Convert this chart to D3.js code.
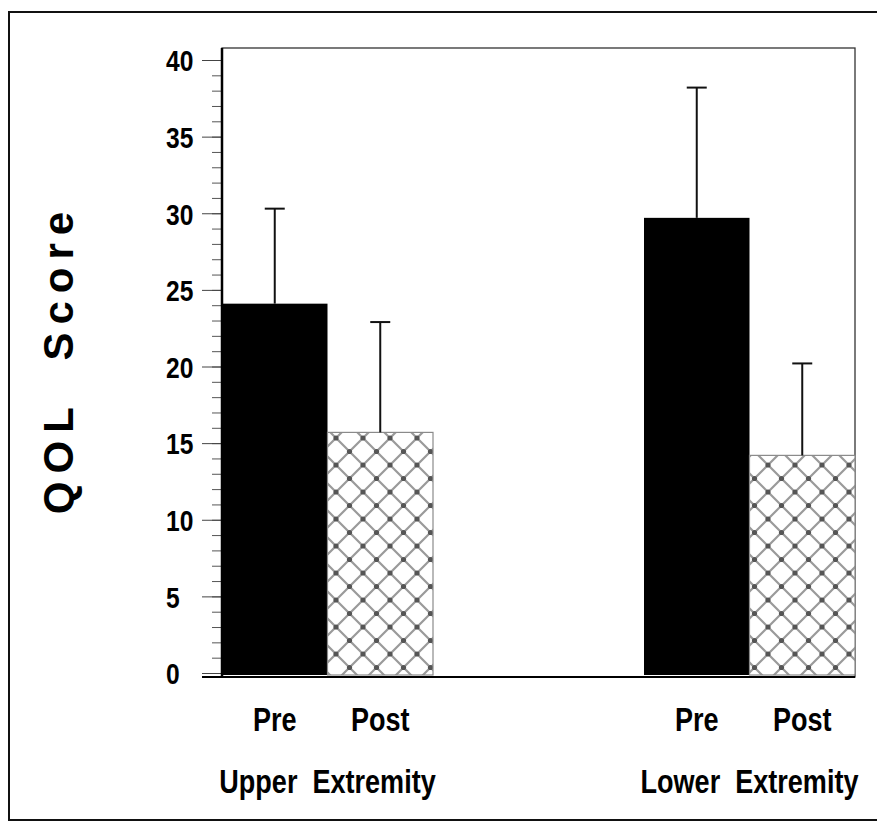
<!DOCTYPE html>
<html>
<head>
<meta charset="utf-8">
<script src="https://cdn.jsdelivr.net/npm/d3@7"></script>
<style>
  body { margin: 0; background: #fff; }
  .narrow { font-family: "Liberation Sans", Arial, sans-serif; font-weight: bold; }
</style>
</head>
<body>
<div id="chart"></div>
<script>
// chart values
var groups = ["Upper Extremity", "Lower Extremity"];
var phases = ["Pre", "Post"];
var preMeans = [24.1, 29.7];
var postMeans = [15.7, 14.2];
var preSD = [6.2, 8.5];
var postSD = [7.2, 6.0];
var yTicks = [0, 5, 10, 15, 20, 25, 30, 35, 40];

var svgWidth = 877;
var svgHeight = 824;
var squeeze = 0.82; // narrow bold look of the original lettering

var margin = { top: 60, right: 22, bottom: 151, left: 222 };
var width = svgWidth - margin.left - margin.right;
var height = svgHeight - margin.top - margin.bottom;

var svg = d3.select("#chart")
  .append("svg")
  .attr("width", svgWidth)
  .attr("height", svgHeight);

svg.append("rect")
  .attr("width", svgWidth).attr("height", svgHeight)
  .attr("fill", "#fff");

// outer frame of the figure
svg.append("rect")
  .attr("x", 9).attr("y", 12)
  .attr("width", 900).attr("height", 808)
  .attr("fill", "none")
  .attr("stroke", "#111")
  .attr("stroke-width", 2);

// cross hatch for the post bars
var defs = svg.append("defs");
var pat = defs.append("pattern")
  .attr("id", "hatch")
  .attr("patternUnits", "userSpaceOnUse")
  .attr("width", 27).attr("height", 27)
  .attr("x", margin.left).attr("y", 0);
pat.append("rect").attr("width", 27).attr("height", 27).attr("fill", "#fff");
pat.append("path")
  .attr("d", "M0,0L27,27M0,27L27,0M-3,3L3,-3M24,30L30,24M-3,24L3,30M24,-3L30,3")
  .attr("stroke", "#9a9a9a")
  .attr("stroke-width", 2.2);
pat.selectAll("circle")
  .data([[0, 0], [27, 0], [0, 27], [27, 27], [13.5, 13.5]])
  .enter()
  .append("circle")
  .attr("cx", d => d[0]).attr("cy", d => d[1])
  .attr("r", 2.6)
  .attr("fill", "#555");

var chartGroup = svg.append("g")
  .attr("transform", `translate(${margin.left}, ${margin.top})`);

// scales
var yScale = d3.scaleLinear()
  .domain([0, 40])
  .range([height, 0]);

var x0 = d3.scaleBand()
  .domain(groups)
  .range([0, width])
  .paddingInner(0.5);

var x1 = d3.scaleBand()
  .domain(phases)
  .range([0, x0.bandwidth()]);

var data = [];
groups.forEach(function(g, i) {
  data.push({ group: g, phase: "Pre", mean: preMeans[i], sd: preSD[i] });
  data.push({ group: g, phase: "Post", mean: postMeans[i], sd: postSD[i] });
});

// plot frame
var frameTop = yScale(40) - 12;
chartGroup.append("rect")
  .attr("x", 0).attr("y", frameTop)
  .attr("width", width).attr("height", height + 4 - frameTop)
  .attr("fill", "none")
  .attr("stroke", "#333")
  .attr("stroke-width", 1.3);

// minor ticks every unit
var minorAxis = d3.axisLeft(yScale)
  .ticks(40)
  .tickSize(10)
  .tickFormat("");
var minorG = chartGroup.append("g").call(minorAxis);
minorG.select(".domain").remove();
minorG.selectAll("line").attr("stroke", "#555").attr("stroke-width", 1);

// major ticks with labels
var leftAxis = d3.axisLeft(yScale)
  .tickValues(yTicks)
  .tickSize(20)
  .tickPadding(4);
var axisG = chartGroup.append("g").call(leftAxis);
axisG.select(".domain").remove();
axisG.selectAll("line").attr("stroke", "#444").attr("stroke-width", 1);
axisG.selectAll("text")
  .attr("class", "narrow")
  .attr("font-size", "30px")
  .attr("fill", "#000")
  .attr("text-anchor", "start")
  .attr("transform", `scale(${squeeze},1)`)
  .attr("x", -56 / squeeze)
  .attr("dy", "0.36em");

// bars
chartGroup.selectAll(".bar")
  .data(data)
  .enter()
  .append("rect")
  .attr("class", "bar")
  .attr("x", d => x0(d.group) + x1(d.phase))
  .attr("y", d => yScale(d.mean))
  .attr("width", x1.bandwidth())
  .attr("height", d => height + 2 - yScale(d.mean))
  .attr("fill", d => d.phase == "Pre" ? "#000" : "url(#hatch)")
  .attr("stroke", d => d.phase == "Pre" ? "#000" : "#8a8a8a")
  .attr("stroke-width", d => d.phase == "Pre" ? 0 : 1.2);

// error bars
var errG = chartGroup.selectAll(".err")
  .data(data)
  .enter()
  .append("g")
  .attr("class", "err")
  .attr("transform", d => `translate(${x0(d.group) + x1(d.phase) + x1.bandwidth() / 2}, 0)`);

errG.append("line")
  .attr("x1", 0).attr("x2", 0)
  .attr("y1", d => yScale(d.mean))
  .attr("y2", d => yScale(d.mean + d.sd))
  .attr("stroke", "#111")
  .attr("stroke-width", 2);

errG.append("line")
  .attr("x1", -10).attr("x2", 10)
  .attr("y1", d => yScale(d.mean + d.sd))
  .attr("y2", d => yScale(d.mean + d.sd))
  .attr("stroke", "#111")
  .attr("stroke-width", 2);

// left axis line and baseline
chartGroup.append("line")
  .attr("x1", 0).attr("x2", 0)
  .attr("y1", frameTop).attr("y2", height + 4)
  .attr("stroke", "#000").attr("stroke-width", 2.5);
chartGroup.append("line")
  .attr("x1", -20).attr("x2", width)
  .attr("y1", height + 4).attr("y2", height + 4)
  .attr("stroke", "#000").attr("stroke-width", 2);

// category labels
chartGroup.selectAll(".phaseLabel")
  .data(data)
  .enter()
  .append("text")
  .attr("class", "narrow")
  .attr("transform", d => `translate(${x0(d.group) + x1(d.phase) + x1.bandwidth() / 2}, ${height + 58}) scale(${squeeze},1)`)
  .attr("text-anchor", "middle")
  .attr("font-size", "33px")
  .text(d => d.phase);

chartGroup.selectAll(".groupLabel")
  .data(groups)
  .enter()
  .append("text")
  .attr("class", "narrow")
  .attr("transform", d => `translate(${x0(d) + x0.bandwidth() / 2}, ${height + 120}) scale(${squeeze},1)`)
  .attr("text-anchor", "middle")
  .attr("font-size", "33px")
  .style("white-space", "pre")
  .text(d => d.replace(" ", "  "));

// y axis title
svg.append("text")
  .attr("transform", "translate(73, 359) rotate(-90)")
  .attr("text-anchor", "middle")
  .attr("font-family", "'Liberation Sans', Arial, sans-serif")
  .attr("font-weight", "bold")
  .attr("font-size", "42px")
  .attr("letter-spacing", "8px")
  .style("white-space", "pre")
  .text("QOL  Score");
</script>
</body>
</html>
